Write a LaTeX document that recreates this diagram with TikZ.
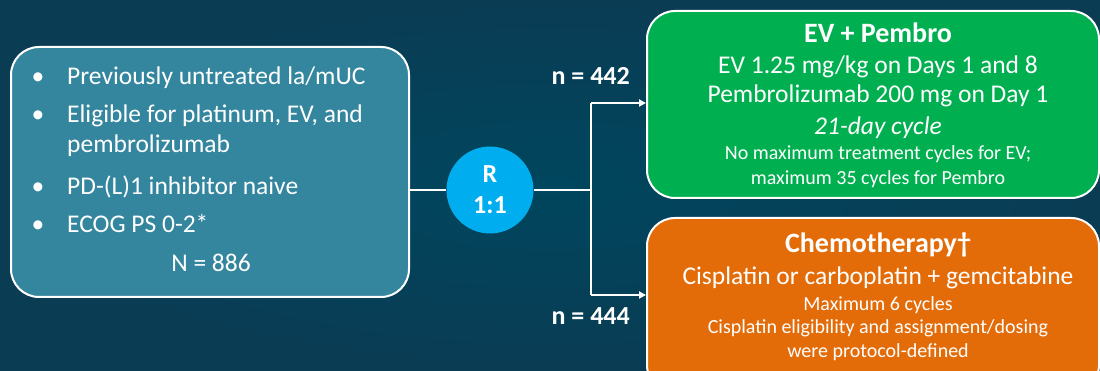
\documentclass[tikz,border=0pt]{standalone}
\usepackage{fontspec}
\setmainfont{Carlito}
\usetikzlibrary{arrows.meta}
\definecolor{bgA}{RGB}{0,70,94}
\definecolor{bgB}{RGB}{10,60,84}
\definecolor{teal}{RGB}{52,134,158}
\definecolor{evgreen}{RGB}{0,176,80}
\definecolor{chemo}{RGB}{227,108,9}
\definecolor{rblue}{RGB}{0,174,239}
\tikzset{
  box/.style={draw=white, line width=2pt, rounded corners=28pt},
  conn/.style={draw=white, line width=2pt},
  arr/.style={conn, -{Triangle[length=7pt,width=7pt]}},
  txt/.style={text=white, inner sep=0pt, anchor=base},
  lefttxt/.style={txt, anchor=base west},
  big/.style={font=\fontsize{25.5}{30}\selectfont},
  small/.style={font=\fontsize{20}{24}\selectfont},
  head/.style={font=\bfseries\fontsize{28}{33}\selectfont},
  lab/.style={font=\bfseries\fontsize{26}{31}\selectfont},
}
\begin{document}
\begin{tikzpicture}[x=1pt,y=-1pt]
\useasboundingbox (0,0) rectangle (1100,371);
\shade[inner color=bgA, outer color=bgB] (0,0) rectangle (1100,371);
% left box
\node[box, fill=teal, minimum width=398pt, minimum height=250pt, anchor=north west] (pop) at (10,46) {};
\node[lefttxt, big] (b1) at (67,85) {Previously untreated la/mUC};
\node[lefttxt, big] (b2) at (67,123) {Eligible for platinum, EV, and};
\node[lefttxt, big] (b3) at (67,153) {pembrolizumab};
\node[lefttxt, big] (b4) at (67,195) {PD-(L)1 inhibitor naive};
\node[lefttxt, big] (b5) at (67,233) {ECOG PS 0-2*};
\node[txt, big] (d1) at (38,85) {•};
\node[txt, big] (d2) at (38,123) {•};
\node[txt, big] (d4) at (38,195) {•};
\node[txt, big] (d5) at (38,233) {•};
\node[txt, big] (nall) at (211,272) {N = 886};
% randomisation
\node[circle, fill=rblue, minimum size=87pt, inner sep=0pt] (R) at (490,190) {};
\node[txt, lab] (Rl) at (490,183) {R};
\node[txt, lab] (Rr) at (490,214) {1:1};
\coordinate (split) at (591,190);
\coordinate (up) at (591,103);
\coordinate (dn) at (591,295);
% arm boxes
\node[box, fill=evgreen, minimum width=452pt, minimum height=187pt, anchor=north west] (ev) at (646,10) {};
\node[box, fill=chemo, minimum width=452pt, minimum height=175pt, anchor=north west] (ch) at (646,217) {};
\draw[conn] (pop.east |- R.west) -- (R.west);
\draw[conn] (R.east) -- (split);
\draw[conn] (up) -- (dn);
\draw[arr] (up) -- (up -| ev.west);
\draw[arr] (dn) -- (dn -| ch.west);
\node[txt, anchor=base east, lab] (n1) at (630,85) {n = 442};
\node[txt, anchor=base east, lab] (n2) at (630,324) {n = 444};
% EV text
\node[txt, head] (e0) at (878,43) {EV + Pembro};
\node[txt, big] (e1) at (878,74) {EV 1.25 mg/kg on Days 1 and 8};
\node[txt, big] (e2) at (878,103) {Pembrolizumab 200 mg on Day 1};
\node[txt, big, font=\itshape\fontsize{25.5}{30}\selectfont] (e3) at (878,135) {21-day cycle};
\node[txt, small] (e4) at (878,160) {No maximum treatment cycles for EV;};
\node[txt, small] (e5) at (878,185) {maximum 35 cycles for Pembro};
% chemo text
\node[txt, head] (c0) at (878,253) {Chemotherapy†};
\node[txt, big] (c1) at (878,284) {Cisplatin or carboplatin + gemcitabine};
\node[txt, small] (c2) at (878,310) {Maximum 6 cycles};
\node[txt, small] (c3) at (878,334) {Cisplatin eligibility and assignment/dosing};
\node[txt, small] (c4) at (878,357) {were protocol-defined};
\end{tikzpicture}
\end{document}
